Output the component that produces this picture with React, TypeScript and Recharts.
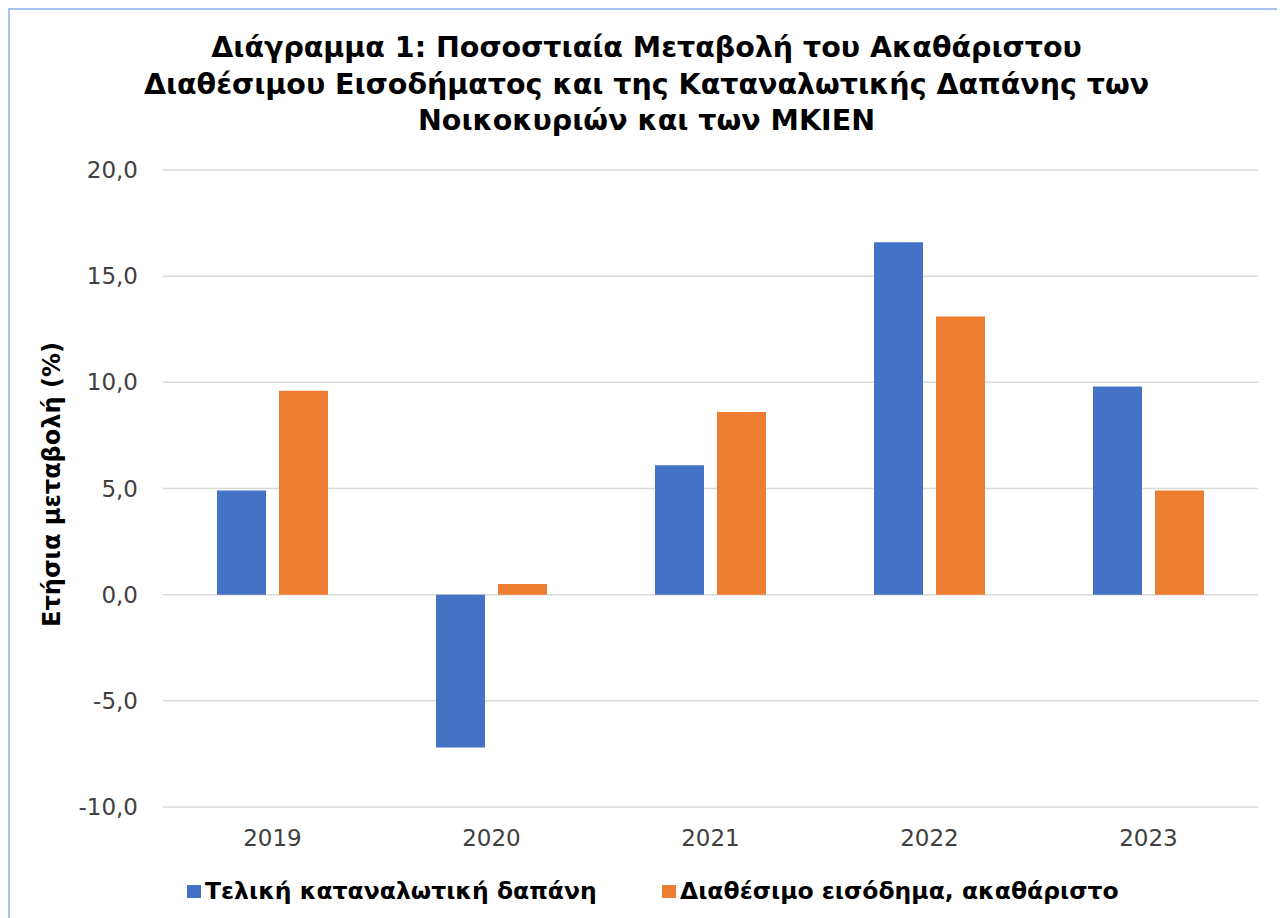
import { BarChart, Bar, XAxis, YAxis, CartesianGrid } from 'recharts'

const years = ['2019', '2020', '2021', '2022', '2023']
const spending = [4.9, -7.2, 6.1, 16.6, 9.8]
const income = [9.6, 0.5, 8.6, 13.1, 4.9]
const yTicks = [-10, -5, 0, 5, 10, 15, 20]

const series = [
  { key: 'spending', name: 'Τελική καταναλωτική δαπάνη', color: '#4472C4' },
  { key: 'income', name: 'Διαθέσιμο εισόδημα, ακαθάριστο', color: '#ED7D31' },
]

const titleLines = [
  'Διάγραμμα 1: Ποσοστιαία Μεταβολή του Ακαθάριστου',
  'Διαθέσιμου Εισοδήματος και της Καταναλωτικής Δαπάνης των',
  'Νοικοκυριών και των ΜΚΙΕΝ',
]

const data = years.map((year, i) => ({ year, spending: spending[i], income: income[i] }))

const fmt = (v: number) => v.toFixed(1).replace('.', ',')

function YLabel(props: any) {
  const vb = props.viewBox || { x: 0, y: 0, height: 0 }
  const x = vb.x + 44
  const y = vb.y + vb.height / 2 - 4
  return (
    <text
      x={x}
      y={y}
      transform={`rotate(-90, ${x}, ${y})`}
      textAnchor="middle"
      dominantBaseline="central"
      fontFamily="DejaVu Sans"
      fontWeight="bold"
      fontSize={24}
      fill="#000"
    >
      Ετήσια μεταβολή (%)
    </text>
  )
}

export default function App() {
  return (
    <div style={{ position: 'relative', width: 1277, height: 910, background: '#fff', fontFamily: 'DejaVu Sans' }}>
      <div style={{ position: 'absolute', left: 0, top: 0, width: 1277, height: 2, background: '#a9c4ec' }} />
      <div style={{ position: 'absolute', left: 0, top: 0, width: 2, height: 910, background: '#a9c4ec' }} />

      <div
        style={{
          position: 'absolute',
          top: 22,
          left: 0,
          width: 1277,
          textAlign: 'center',
          fontWeight: 'bold',
          fontSize: 28.5,
          lineHeight: '36.5px',
          color: '#000',
        }}
      >
        {titleLines.map((l) => (
          <div key={l}>{l}</div>
        ))}
      </div>

      <div style={{ position: 'absolute', left: 0, top: 0 }}>
        <BarChart
          width={1277}
          height={910}
          data={data}
          margin={{ top: 162, right: 27, bottom: 0, left: 0 }}
          barSize={49}
          barGap={13}
        >
          <CartesianGrid vertical={false} stroke="#d9d9d9" strokeWidth={1.5} />
          <XAxis
            dataKey="year"
            height={111}
            axisLine={false}
            tickLine={false}
            tickSize={0}
            tickMargin={23}
            tick={{ fontSize: 23, fill: '#404040', fontFamily: 'DejaVu Sans' }}
          />
          <YAxis
            width={155}
            domain={[-10, 20]}
            ticks={yTicks}
            interval={0}
            axisLine={false}
            tickLine={false}
            tickSize={0}
            tickMargin={25}
            tickFormatter={fmt}
            tick={{ fontSize: 23, fill: '#404040', fontFamily: 'DejaVu Sans' }}
            label={<YLabel />}
          />
          {series.map((s) => (
            <Bar key={s.key} dataKey={s.key} name={s.name} fill={s.color} isAnimationActive={false} />
          ))}
        </BarChart>
      </div>

      {series.map((s, i) => (
        <div
          key={s.key}
          style={{
            position: 'absolute',
            left: i === 0 ? 179 : 654,
            top: 868,
            height: 30,
            display: 'flex',
            alignItems: 'center',
            fontWeight: 'bold',
            fontSize: 23.5,
            color: '#000',
            whiteSpace: 'nowrap',
          }}
        >
          <span style={{ display: 'inline-block', width: 14, height: 13, background: s.color, marginRight: 4 }} />
          {s.name}
        </div>
      ))}
    </div>
  )
}
